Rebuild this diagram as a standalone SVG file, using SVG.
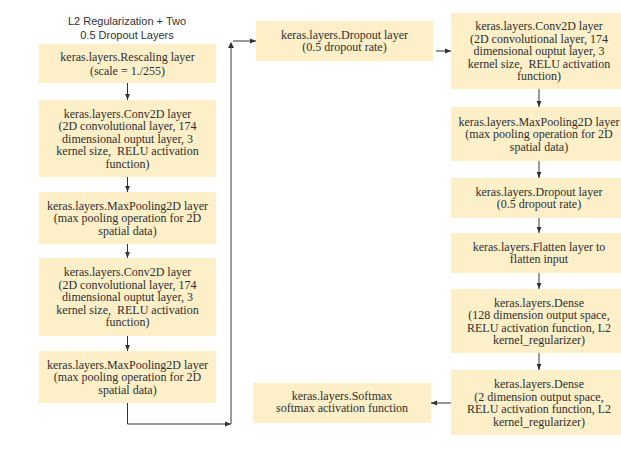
<svg xmlns="http://www.w3.org/2000/svg" width="621" height="454" viewBox="0 0 621 454">
<style>
.box{fill:#fdf0c9;stroke:none}
.t{font-family:"Liberation Serif","Times New Roman",serif;font-size:12px;fill:#2e2e2e;text-anchor:middle;white-space:pre}
.title{font-family:"Liberation Sans",Arial,sans-serif;font-size:11px;fill:#333;text-anchor:middle}
.c{fill:none;stroke:#333;stroke-width:1}
.g{fill:none;stroke:#7a7a7a;stroke-width:1.5}
</style>
<defs>
<marker id="ah" markerUnits="userSpaceOnUse" markerWidth="6" markerHeight="6" viewBox="0 0 6 6" refX="6" refY="3" orient="auto">
<path d="M0,0.6 L6,3 L0,5.4 Z" fill="#333"/>
</marker>
</defs>
<rect width="621" height="454" fill="#fff"/>
<text class="title" x="127" y="25">L2 Regularization + Two</text>
<text class="title" x="127" y="38.5">0.5 Dropout Layers</text>

<g id="rescaling">
<rect class="box" x="39" y="44" width="177" height="39"/>
<text class="t" x="127.5" y="61">keras.layers.Rescaling layer</text>
<text class="t" x="127.5" y="74.5">(scale = 1./255)</text>
</g>
<g id="conv2d-1">
<rect class="box" x="39" y="100" width="177" height="77"/>
<text class="t" x="127.5" y="117.5">keras.layers.Conv2D layer</text>
<text class="t" x="127.5" y="130">(2D convolutional layer, 174</text>
<text class="t" x="127.5" y="142.5">dimensional ouptut layer, 3</text>
<text class="t" x="127.5" y="155" xml:space="preserve">kernel size,  RELU activation</text>
<text class="t" x="127.5" y="167.5">function)</text>
</g>
<g id="maxpool-1">
<rect class="box" x="39" y="192" width="177" height="52"/>
<text class="t" x="127.5" y="209.5">keras.layers.MaxPooling2D layer</text>
<text class="t" x="127.5" y="222">(max pooling operation for 2D</text>
<text class="t" x="127.5" y="234.5">spatial data)</text>
</g>
<g id="conv2d-2">
<rect class="box" x="39" y="258" width="177" height="78"/>
<text class="t" x="127.5" y="276">keras.layers.Conv2D layer</text>
<text class="t" x="127.5" y="288.5">(2D convolutional layer, 174</text>
<text class="t" x="127.5" y="301">dimensional ouptut layer, 3</text>
<text class="t" x="127.5" y="313.5" xml:space="preserve">kernel size,  RELU activation</text>
<text class="t" x="127.5" y="326">function)</text>
</g>
<g id="maxpool-2">
<rect class="box" x="39" y="351" width="177" height="52"/>
<text class="t" x="127.5" y="368.5">keras.layers.MaxPooling2D layer</text>
<text class="t" x="127.5" y="381">(max pooling operation for 2D</text>
<text class="t" x="127.5" y="393.5">spatial data)</text>
</g>
<g id="dropout-1">
<rect class="box" x="256" y="21" width="177" height="40"/>
<text class="t" x="344.5" y="38.5">keras.layers.Dropout layer</text>
<text class="t" x="344.5" y="51">(0.5 dropout rate)</text>
</g>
<g id="softmax">
<rect class="box" x="253" y="383" width="178" height="40"/>
<text class="t" x="342" y="399.5">keras.layers.Softmax</text>
<text class="t" x="342" y="412">softmax activation function</text>
</g>
<g id="conv2d-3">
<rect class="box" x="451" y="13" width="175" height="76"/>
<text class="t" x="539" y="30">keras.layers.Conv2D layer</text>
<text class="t" x="539" y="42.5">(2D convolutional layer, 174</text>
<text class="t" x="539" y="55">dimensional ouptut layer, 3</text>
<text class="t" x="539" y="67.5" xml:space="preserve">kernel size,  RELU activation</text>
<text class="t" x="539" y="80">function)</text>
</g>
<g id="maxpool-3">
<rect class="box" x="451" y="107" width="175" height="54"/>
<text class="t" x="539" y="125.5">keras.layers.MaxPooling2D layer</text>
<text class="t" x="539" y="138">(max pooling operation for 2D</text>
<text class="t" x="539" y="150.5">spatial data)</text>
</g>
<g id="dropout-2">
<rect class="box" x="451" y="178" width="175" height="40"/>
<text class="t" x="539" y="195.5">keras.layers.Dropout layer</text>
<text class="t" x="539" y="208">(0.5 dropout rate)</text>
</g>
<g id="flatten">
<rect class="box" x="451" y="233" width="175" height="40"/>
<text class="t" x="539" y="250.5">keras.layers.Flatten layer to</text>
<text class="t" x="539" y="263">flatten input</text>
</g>
<g id="dense-1">
<rect class="box" x="451" y="289" width="175" height="64"/>
<text class="t" x="539" y="306.5">keras.layers.Dense</text>
<text class="t" x="539" y="319">(128 dimension output space,</text>
<text class="t" x="539" y="331.5">RELU activation function, L2</text>
<text class="t" x="539" y="344">kernel_regularizer)</text>
</g>
<g id="dense-2">
<rect class="box" x="451" y="370" width="175" height="65"/>
<text class="t" x="539" y="388">keras.layers.Dense</text>
<text class="t" x="539" y="400.5">(2 dimension output space,</text>
<text class="t" x="539" y="413">RELU activation function, L2</text>
<text class="t" x="539" y="425.5">kernel_regularizer)</text>
</g>

<g id="connectors">
<path class="c" d="M127.5,83 V100" marker-end="url(#ah)"/>
<path class="c" d="M127.5,177 V192" marker-end="url(#ah)"/>
<path class="c" d="M127.5,244 V258" marker-end="url(#ah)"/>
<path class="c" d="M127.5,336 V351" marker-end="url(#ah)"/>
<path class="c" d="M127.5,403 V424 H231" marker-end="url(#ah)"/>
<path class="g" d="M231,424 V43"/>
<path d="M228,48 L231,42 L234,48 Z" fill="#333"/>
<path class="c" d="M233,41 H256" marker-end="url(#ah)"/>
<path class="c" d="M436,51 H451" marker-end="url(#ah)"/>
<path class="c" d="M539,89 V107" marker-end="url(#ah)"/>
<path class="c" d="M539,161 V178" marker-end="url(#ah)"/>
<path class="c" d="M539,218 V233" marker-end="url(#ah)"/>
<path class="c" d="M539,273 V289" marker-end="url(#ah)"/>
<path class="c" d="M539,353 V370" marker-end="url(#ah)"/>
<path class="c" d="M451,403 H431" marker-end="url(#ah)"/>
</g>
</svg>
